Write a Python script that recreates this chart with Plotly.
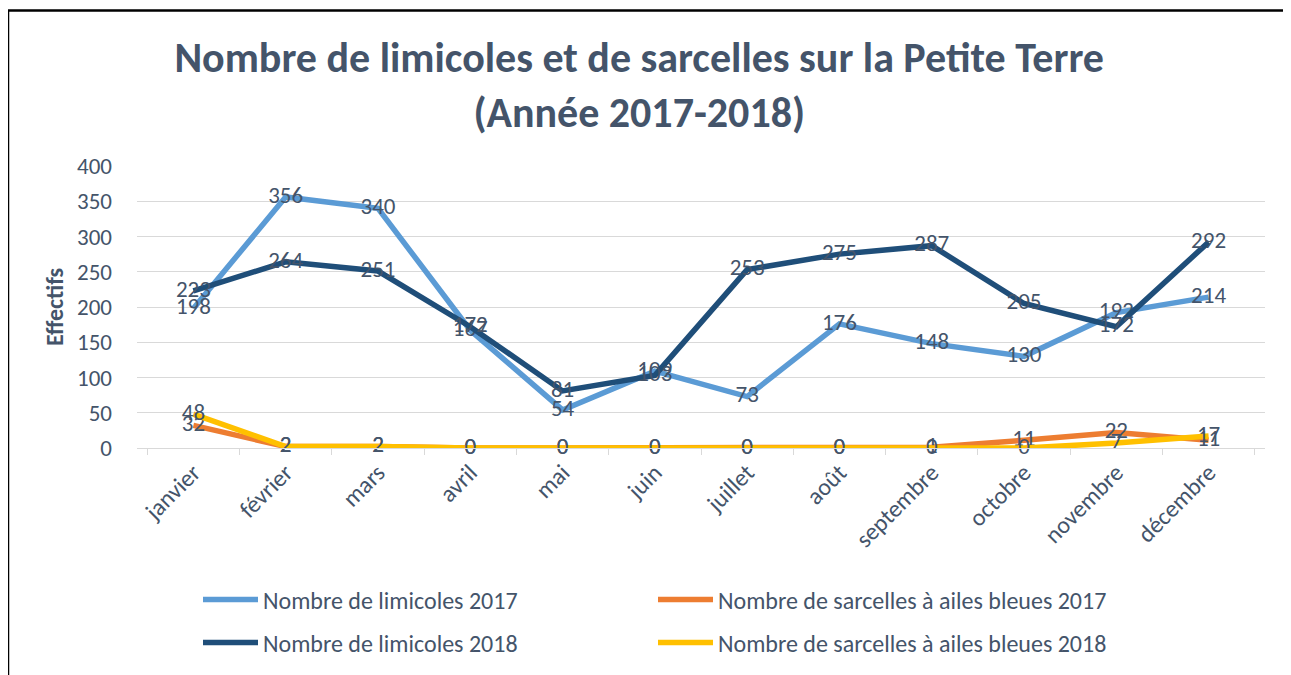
import plotly.graph_objects as go

mois = ["janvier", "février", "mars", "avril", "mai", "juin", "juillet",
        "août", "septembre", "octobre", "novembre", "décembre"]
limicoles_2017 = [198, 356, 340, 167, 54, 109, 73, 176, 148, 130, 192, 214]
limicoles_2018 = [223, 264, 251, 172, 81, 103, 253, 275, 287, 205, 172, 292]
sarcelles_2017 = [32, 2, 2, 0, 0, 0, 0, 0, 1, 11, 22, 11]
sarcelles_2018 = [48, 2, 2, 0, 0, 0, 0, 0, 0, 0, 7, 17]

FONT = "Carlito, Calibri, Lato, sans-serif"
TXT = "#44546A"

W, H = 1283, 667
L, T, PW, PH = 129, 158, 1128, 283

series = [
    ("Nombre de limicoles 2017", limicoles_2017, "#5B9BD5", "legend"),
    ("Nombre de sarcelles à ailes bleues 2017", sarcelles_2017, "#ED7D31", "legend"),
    ("Nombre de limicoles 2018", limicoles_2018, "#1F4E79", "legend2"),
    ("Nombre de sarcelles à ailes bleues 2018", sarcelles_2018, "#FFC000", "legend2"),
]

fig = go.Figure()
for name, vals, col, leg in series:
    fig.add_trace(go.Scatter(
        x=mois, y=vals, name=name, mode="lines+text",
        line=dict(color=col, width=5.5),
        text=[str(v) for v in vals], textposition="middle center",
        textfont=dict(family=FONT, size=23, color=TXT),
        legend=leg, cliponaxis=False,
    ))

legend_common = dict(
    orientation="h", font=dict(family=FONT, size=24, color=TXT),
    entrywidth=385, entrywidthmode="pixels", itemwidth=55,
    xanchor="left", yanchor="middle", bgcolor="rgba(0,0,0,0)",
)

fig.update_layout(
    width=W, height=H,
    margin=dict(l=L, r=W - L - PW, t=T, b=H - T - PH),
    paper_bgcolor="white", plot_bgcolor="white",
    font=dict(family=FONT, color=TXT),
    title=dict(
        text="<b>Nombre de limicoles et de sarcelles sur la Petite Terre<br>(Année 2017-2018)</b>",
        x=0.492, xanchor="center", y=1 - 64 / H, yanchor="middle",
        font=dict(family=FONT, size=42, color=TXT),
    ),
    legend=dict(x=(190 - L) / PW, y=(T + PH - 592) / PH, **legend_common),
    legend2=dict(x=(190 - L) / PW, y=(T + PH - 635) / PH, **legend_common),
    xaxis=dict(
        type="category", showgrid=False, showline=True, linecolor="#D9D9D9",
        linewidth=1, ticks="outside", tickson="boundaries", ticklen=6,
        tickcolor="#D9D9D9", tickangle=-45,
        tickfont=dict(family=FONT, size=24, color=TXT),
    ),
    yaxis=dict(
        range=[0, 400], dtick=50, showgrid=True, gridcolor="#D9D9D9",
        gridwidth=1, zeroline=False, showline=False,
        ticklabelstandoff=24,
        tickfont=dict(family=FONT, size=23, color=TXT),
        title=dict(text="<b>Effectifs</b>", standoff=6,
                   font=dict(family=FONT, size=24, color=TXT)),
    ),
    shapes=[dict(
        type="rect", xref="paper", yref="paper",
        x0=(0 - L) / PW, x1=(W + 20 - L) / PW,
        y0=(T + PH - H - 20) / PH, y1=(T + PH - 2) / PH,
        line=dict(color="black", width=2.5), fillcolor="rgba(0,0,0,0)",
        layer="below",
    )],
)

fig.write_html("out.html")
